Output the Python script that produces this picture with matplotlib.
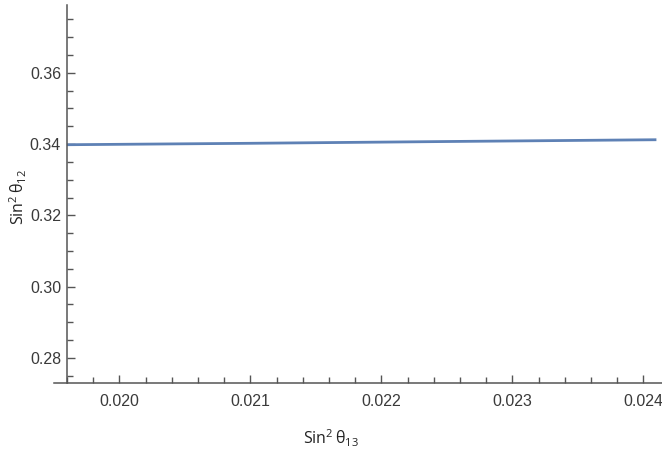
import matplotlib
matplotlib.use("Agg")
import matplotlib.pyplot as plt
from matplotlib.ticker import MultipleLocator, FormatStrFormatter

# sin^2(theta13) vs predicted sin^2(theta12)
sin2_t13 = [0.0196, 0.0210, 0.0225, 0.0241]
sin2_t12 = [0.3398, 0.3402, 0.3407, 0.3412]

x_ticks = [0.020, 0.021, 0.022, 0.023, 0.024]
y_ticks = [0.28, 0.30, 0.32, 0.34, 0.36]

plt.rcParams['font.family'] = ['Liberation Sans', 'DejaVu Sans']
plt.rcParams['mathtext.fontset'] = 'custom'
plt.rcParams['mathtext.rm'] = 'Open Sans'
plt.rcParams['mathtext.it'] = 'Open Sans'
plt.rcParams['mathtext.fallback'] = 'stixsans'

W, H = 662, 449
fig = plt.figure(figsize=(W / 100, H / 100), dpi=100)
ax = fig.add_axes([54 / W, (H - 382.7) / H, 1 - 54 / W, (382.7 - 5) / H])

axis_col = '#555555'
text_col = '#3a3a3a'

ax.plot(sin2_t13, sin2_t12, color='#5E81B5', lw=2.0, solid_capstyle='butt')

ax.set_xlim(0.0195015, 0.0241427)
ax.set_ylim(0.27307, 0.37898)

for s in ('top', 'right'):
    ax.spines[s].set_visible(False)
ax.spines['left'].set_position(('data', 0.019598))
for s in ('left', 'bottom'):
    ax.spines[s].set_color(axis_col)
    ax.spines[s].set_linewidth(1.1)

ax.set_xticks(x_ticks)
ax.set_yticks(y_ticks)
ax.xaxis.set_major_formatter(FormatStrFormatter('%.3f'))
ax.yaxis.set_major_formatter(FormatStrFormatter('%.2f'))
ax.xaxis.set_minor_locator(MultipleLocator(0.0002))
ax.yaxis.set_minor_locator(MultipleLocator(0.005))
ax.tick_params(which='both', direction='in', color=axis_col, width=1.0,
               labelcolor=text_col, labelsize=11.5)
ax.tick_params(which='major', length=6)
ax.tick_params(which='minor', length=4)
ax.tick_params(axis='x', which='major', pad=8)
ax.tick_params(axis='y', which='major', pad=4)

fig.text(331 / W, 1 - 438 / H, r'$\mathrm{Sin}^{2}\,\mathrm{\theta}_{13}$',
         ha='center', va='center', fontsize=11.5, color='#222222')
fig.text(18 / W, 1 - 197 / H, r'$\mathrm{Sin}^{2}\,\mathrm{\theta}_{12}$',
         ha='center', va='center', rotation=90, fontsize=11.5, color='#222222')

fig.savefig('out.png', dpi=100)
